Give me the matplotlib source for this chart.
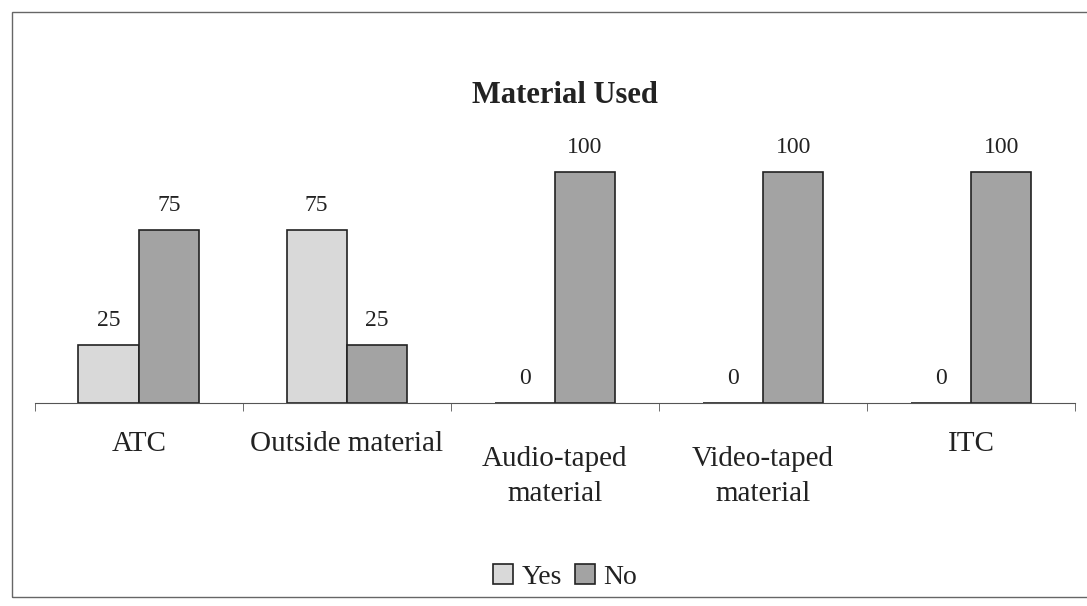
import numpy as np
import matplotlib.pyplot as plt
from matplotlib.patches import Rectangle
from matplotlib.transforms import ScaledTranslation

# data
categories = ['ATC', 'Outside material', 'Audio-taped\nmaterial', 'Video-taped\nmaterial', 'ITC']
yes = [25, 75, 0, 0, 0]
no = [75, 25, 100, 100, 100]

plt.rcParams['font.family'] = ['Liberation Serif', 'DejaVu Serif']

fig = plt.figure(figsize=(10.87, 6.06), dpi=100)
ax = fig.add_axes([0.032, 0.335, 0.957, 0.45])

x = np.arange(len(categories))
w = 0.29
b1 = ax.bar(x - w / 2, yes, w, color='#d9d9d9', edgecolor='#222222', linewidth=1.2, label='Yes')
b2 = ax.bar(x + w / 2, no, w, color='#a3a3a3', edgecolor='#222222', linewidth=1.2, label='No')

for bars, vals in ((b1, yes), (b2, no)):
    for r, v in zip(bars, vals):
        ax.text(r.get_x() + r.get_width() / 2, v + 6, str(v), ha='center', va='bottom',
                fontsize=17, color='#222222')

ax.set_xlim(-0.5, len(categories) - 0.5)
ax.set_ylim(0, 118)
for s in ('top', 'right', 'left'):
    ax.spines[s].set_visible(False)
ax.spines['bottom'].set_color('#555555')
ax.set_yticks([])
ax.set_xticks(np.arange(len(categories) + 1) - 0.5, minor=True)
ax.tick_params(axis='x', which='minor', length=6, color='#555555')
ax.set_xticks(x)
ax.set_xticklabels(categories, fontsize=21, color='#222222', linespacing=1.45)
ax.tick_params(axis='x', which='major', length=0, pad=20)
# two-line labels sit a bit lower than the single-line ones
for lbl in ax.get_xticklabels():
    if '\n' in lbl.get_text():
        lbl.set_transform(lbl.get_transform() + ScaledTranslation(0, -0.15, fig.dpi_scale_trans))

fig.text(0.52, 0.843, 'Material Used', ha='center', va='center', fontsize=22,
         fontweight='bold', color='#222222')

fig.legend(loc='center', bbox_to_anchor=(0.52, 0.048), ncol=2, frameon=False,
           fontsize=20, handlelength=0.7, handleheight=0.7, handletextpad=0.3,
           columnspacing=0.5, labelcolor='#222222')

fig.patches.append(Rectangle((0.011, 0.015), 0.99, 0.965, transform=fig.transFigure,
                             fill=False, edgecolor='#666666', linewidth=1))

fig.savefig('out.png', dpi=100, facecolor='white')
